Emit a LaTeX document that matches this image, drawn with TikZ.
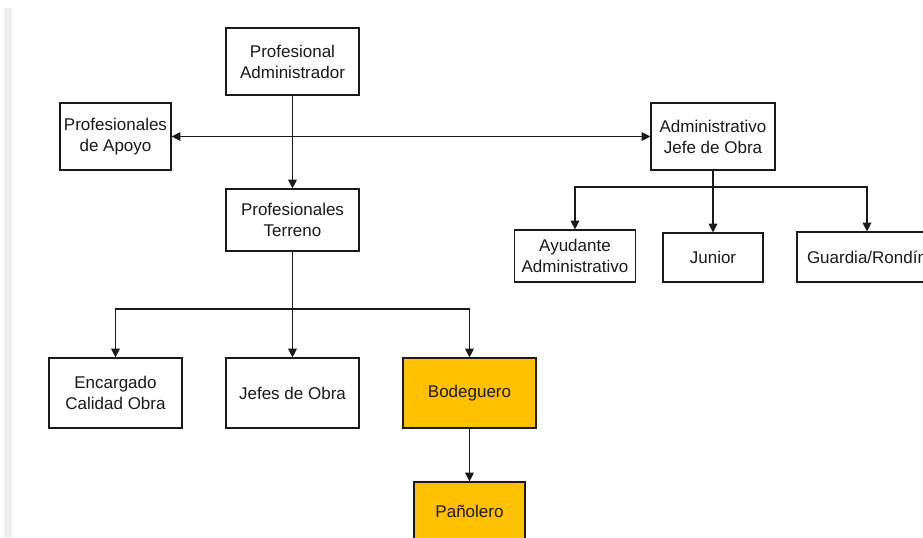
\documentclass[tikz,border=0pt]{standalone}
\usepackage{fontspec}
\setmainfont{Liberation Sans}
\usetikzlibrary{arrows.meta}
\definecolor{boxorange}{HTML}{FFC000}
\definecolor{stripgray}{HTML}{EEEEEE}
\definecolor{linec}{HTML}{1A1A1A}
\tikzset{
  orgbox/.style={draw=linec, line width=0.9pt, fill=white, inner sep=0pt, align=center,
    font=\fontsize{12.75}{15.75}\selectfont, text=black!90},
  hl/.style={fill=boxorange},
  conn/.style={draw=linec, line width=0.85pt, -{Triangle[length=6.5pt,width=6.5pt]}},
  plain/.style={draw=linec, line width=0.85pt},
}
\begin{document}
\begin{tikzpicture}[x=0.75pt,y=-0.75pt]
\useasboundingbox (0,0) rectangle (923,537);
\clip (0,0) rectangle (923,537);
\fill[stripgray] (4,8) rectangle (12,537);
% nodes
\node[orgbox, minimum width=99.75pt, minimum height=50.25pt] (pa) at (292.5,61.5) {Profesional\\Administrador};
\node[orgbox, minimum width=83.25pt, minimum height=50.25pt] (apoyo) at (115.5,136.5) {Profesionales\\de Apoyo};
\node[orgbox, minimum width=93pt, minimum height=50.25pt] (adm) at (713,136.5) {Administrativo\\Jefe de Obra};
\node[orgbox, minimum width=99.75pt, minimum height=46.5pt] (terr) at (292.5,220) {Profesionales\\Terreno};
\node[orgbox, minimum width=90.75pt, minimum height=39pt] (ayud) at (575,256) {Ayudante\\Administrativo};
\node[orgbox, minimum width=75pt, minimum height=36.75pt] (junior) at (713,257.5) {Junior};
\node[orgbox, minimum width=105pt, minimum height=37.5pt] (guard) at (867,257) {Guardia/Rondín};
\node[orgbox, minimum width=99.75pt, minimum height=52.5pt] (enc) at (115.5,393) {Encargado\\Calidad Obra};
\node[orgbox, minimum width=99.75pt, minimum height=52.5pt] (jefes) at (292.5,393) {Jefes de Obra};
\node[orgbox, hl, minimum width=99.75pt, minimum height=52.5pt] (bod) at (469.5,393) {Bodeguero};
\node[orgbox, hl, minimum width=83.25pt, minimum height=43.5pt] (pan) at (469.5,511) {Pañolero};
% branch coordinates
\coordinate (b1) at (0,187);
\coordinate (b2) at (0,309);
% connectors
\draw[conn] (pa.south) -- (terr.north);
\draw[plain, {Triangle[length=6.5pt,width=6.5pt]}-{Triangle[length=6.5pt,width=6.5pt]}] (apoyo.east) -- (adm.west);
\draw[plain] (adm.south) -- (adm.south |- b1);
\draw[conn] (adm.south |- b1) -| (ayud.north);
\draw[conn] (adm.south |- b1) -| (guard.north);
\draw[conn] (adm.south |- b1) -- (junior.north);
\draw[plain] (terr.south) -- (terr.south |- b2);
\draw[conn] (terr.south |- b2) -| (enc.north);
\draw[conn] (terr.south |- b2) -| (bod.north);
\draw[conn] (terr.south |- b2) -- (jefes.north);
\draw[conn] (bod.south) -- (pan.north);
\end{tikzpicture}
\end{document}
